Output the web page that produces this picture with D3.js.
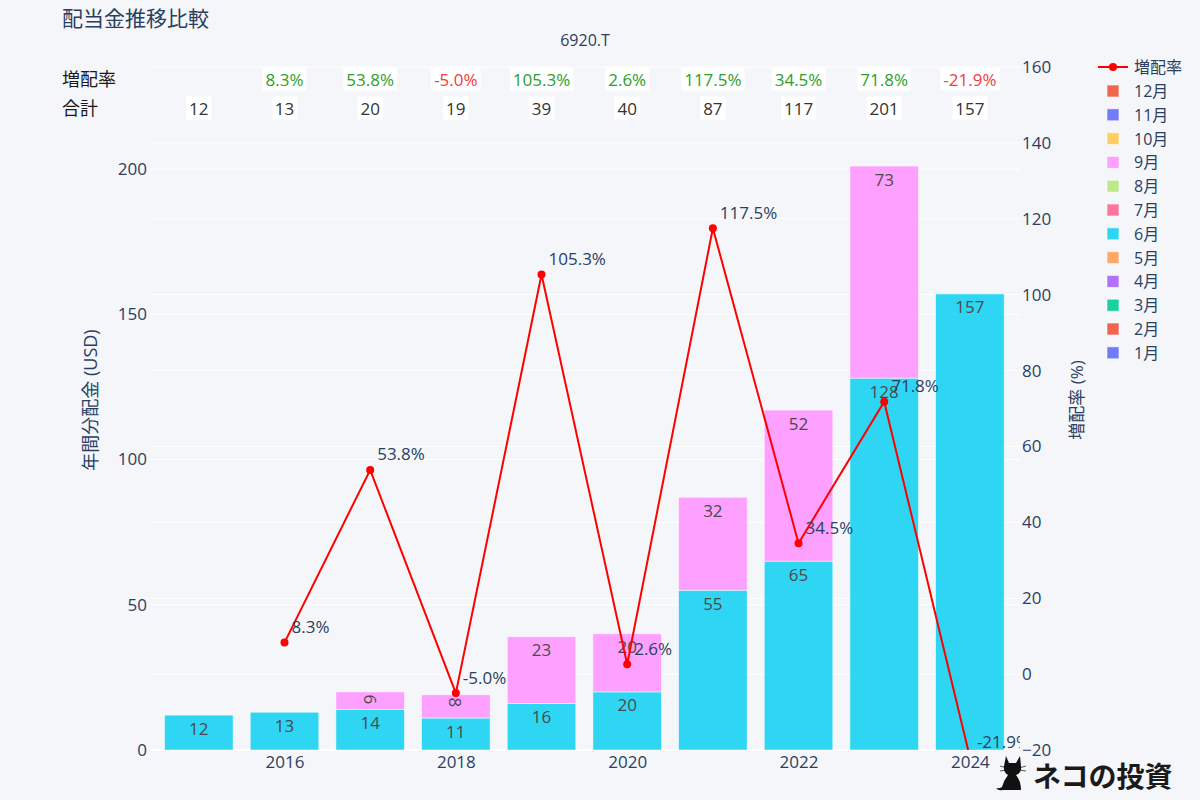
<!DOCTYPE html>
<html><head><meta charset="utf-8">
<script src="https://cdn.jsdelivr.net/npm/d3@7"></script>
<style>body{margin:0;background:#f5f6fa} svg{display:block}</style>
</head><body><svg id="c" width="1200" height="800"></svg>
<script>
// ---- data ----
const years = [2015,2016,2017,2018,2019,2020,2021,2022,2023,2024];
const months = ['1月','2月','3月','4月','5月','6月','7月','8月','9月','10月','11月','12月'];
const monthColors = ['#636EFA','#EF553B','#00CC96','#AB63FA','#FFA15A','#19D3F3','#FF6692','#B6E880','#FF97FF','#FECB52','#636EFA','#EF553B'];
const junValues = [12,13,14,11,16,20,55,65,128,157];
const sepValues = [0,0,6,8,23,20,32,52,73,0];
const totals = [12,13,20,19,39,40,87,117,201,157];
const growth = [null,8.3,53.8,-5.0,105.3,2.6,117.5,34.5,71.8,-21.9];
const leftTicks = [0,50,100,150,200];
const rightTicks = [-20,0,20,40,60,80,100,120,140,160];
const xTicks = [2016,2018,2020,2022,2024];

const FONT = '"Open Sans","Noto Sans CJK JP",sans-serif';
const FC = '#2a3f5f';
const svg = d3.select('#c').style('font-family', FONT);
svg.append('rect').attr('width',1200).attr('height',800).attr('fill','#f5f6fa');

const L=150,R=1020,T=67,B=750;
const x = d3.scaleLinear().domain([2014.43,2024.585]).range([L,R]);
const yL = d3.scaleLinear().domain([0,235.1]).range([B,T]);
const yR = d3.scaleLinear().domain([-20,160]).range([B,T]);
const bw = (x(2016)-x(2015))*0.8;

// grid
const g = svg.append('g');
g.selectAll('.gr').data(rightTicks).join('line')
  .attr('x1',L).attr('x2',R).attr('y1',d=>yR(d)).attr('y2',d=>yR(d))
  .attr('stroke','#fff').attr('stroke-width',1);
g.selectAll('.gl').data(leftTicks).join('line')
  .attr('x1',L).attr('x2',R).attr('y1',d=>yL(d)).attr('y2',d=>yL(d))
  .attr('stroke','#fff').attr('stroke-width',d=>d===0?2:1);

// axes
const axL = svg.append('g').attr('transform',`translate(${L},0)`)
  .call(d3.axisLeft(yL).tickValues(leftTicks).tickSize(0).tickPadding(3));
const axR = svg.append('g').attr('transform',`translate(${R},0)`)
  .call(d3.axisRight(yR).tickValues(rightTicks).tickSize(0).tickPadding(2).tickFormat(d=>d<0?'−'+Math.abs(d):d));
const axX = svg.append('g').attr('transform',`translate(0,${B})`)
  .call(d3.axisBottom(x).tickValues(xTicks).tickSize(0).tickPadding(3).tickFormat(d3.format('d')));
[axL,axR,axX].forEach(a=>{a.select('.domain').remove(); a.selectAll('text').attr('fill',FC).style('font-size','17px').style('font-family',FONT);});
axX.selectAll('text').attr('dy','0.9em');

// stacked bars
const rows = years.map((yr,i)=>{
  const r={year:yr};
  months.forEach(m=>r[m]=0);
  r['6月']=junValues[i]; r['9月']=sepValues[i];
  return r;
});
const stack = d3.stack().keys(months)(rows);
const barG = svg.append('g');
stack.forEach((layer,mi)=>{
  layer.forEach(seg=>{
    const v = seg[1]-seg[0];
    if(v<=0) return;
    const cx = x(seg.data.year);
    const top = yL(seg[1]), bot = yL(seg[0]);
    barG.append('rect').attr('x',cx-bw/2).attr('width',bw).attr('y',top).attr('height',bot-top)
      .attr('fill',monthColors[mi]).attr('fill-opacity',0.9).attr('stroke','#fff').attr('stroke-opacity',0.6).attr('stroke-width',0.8);
    const h = bot-top;
    const t = barG.append('text').text(v).attr('fill','#4a4a4a').style('font-size','17px').attr('text-anchor','middle').attr('dominant-baseline','central');
    if(h>=25){ t.attr('x',cx).attr('y',top+13); }
    else { t.attr('transform',`translate(${cx},${top+7.5}) rotate(90)`); }
  });
});

// clip
svg.append('clipPath').attr('id','clp').append('rect').attr('x',L).attr('y',T).attr('width',R-L).attr('height',B-T);
const lineG = svg.append('g').attr('clip-path','url(#clp)');
const pts = years.map((yr,i)=>({year:yr,v:growth[i]})).filter(d=>d.v!==null);
lineG.append('path').datum(pts).attr('d',d3.line().x(d=>x(d.year)).y(d=>yR(d.v)))
  .attr('fill','none').attr('stroke','#ff0000').attr('stroke-width',2);
lineG.selectAll('circle').data(pts).join('circle').attr('cx',d=>x(d.year)).attr('cy',d=>yR(d.v)).attr('r',4).attr('fill','#ff0000');
lineG.selectAll('.lt').data(pts).join('text').attr('x',d=>x(d.year)+7).attr('y',d=>yR(d.v)-16)
  .attr('dominant-baseline','central').attr('fill',FC).style('font-size','17px').text(d=>d.v.toFixed(1)+'%');

// table annotations
svg.append('text').attr('x',62).attr('y',79).attr('dominant-baseline','central').style('font-size','18px').attr('fill','#1a1a1a').text('増配率');
svg.append('text').attr('x',62).attr('y',108).attr('dominant-baseline','central').style('font-size','18px').attr('fill','#1a1a1a').text('合計');
function boxText(cx,cy,txt,col){
  const gg = svg.append('g');
  const r = gg.append('rect').attr('fill','#fff');
  const t = gg.append('text').attr('x',cx).attr('y',cy).attr('text-anchor','middle').attr('dominant-baseline','central')
    .style('font-size','17px').attr('fill',col).text(txt);
  const w = t.node().getComputedTextLength();
  r.attr('x',cx-w/2-3).attr('width',w+6).attr('y',cy-11.5).attr('height',23);
}
years.forEach((yr,i)=>{
  if(growth[i]!==null) boxText(x(yr),79,growth[i].toFixed(1)+'%', growth[i]>=0?'#2ca02c':'#f03c3c');
  boxText(x(yr),108,String(totals[i]),'#333');
});

// titles
svg.append('text').attr('x',62).attr('y',18).attr('dominant-baseline','central').style('font-size','21px').attr('fill',FC).text('配当金推移比較');
svg.append('text').attr('x',585).attr('y',40).attr('text-anchor','middle').attr('dominant-baseline','central').style('font-size','16px').attr('fill',FC).text('6920.T');
svg.append('text').attr('transform','translate(90,400) rotate(-90)').attr('text-anchor','middle').attr('dominant-baseline','central').style('font-size','18px').attr('fill',FC).text('年間分配金 (USD)');
svg.append('text').attr('transform','translate(1076,400) rotate(-90)').attr('text-anchor','middle').attr('dominant-baseline','central').style('font-size','17px').attr('fill',FC).text('増配率 (%)');

// legend
const lg = svg.append('g');
lg.append('line').attr('x1',1098).attr('x2',1128).attr('y1',67).attr('y2',67).attr('stroke','#ff0000').attr('stroke-width',2);
lg.append('circle').attr('cx',1113).attr('cy',67).attr('r',4).attr('fill','#ff0000');
lg.append('text').attr('x',1134).attr('y',67).attr('dominant-baseline','central').style('font-size','16px').attr('fill',FC).text('増配率');
months.slice().reverse().forEach((m,i)=>{
  const yy = 91 + i*23.8;
  const ci = months.indexOf(m);
  lg.append('rect').attr('x',1107).attr('y',yy-6).attr('width',12).attr('height',12).attr('fill',monthColors[ci]).attr('fill-opacity',0.9).attr('stroke','#fff').attr('stroke-opacity',0.6);
  lg.append('text').attr('x',1134).attr('y',yy).attr('dominant-baseline','central').style('font-size','16px').attr('fill',FC).text(m);
});

// watermark
const wm = svg.append('g');
wm.append('path').attr('fill','#111').attr('d',
  'M1006,756 L1009,763 L1016,763 L1020,756 L1021,766 Q1022,773 1016,775 Q1021,781 1021,790 L1003,790 Q998,791 996,788 Q999,789 1002,787 Q1004,780 1008,775 Q1003,772 1004,766 Z');
wm.append('g').attr('stroke','#111').attr('stroke-width',0.7).selectAll('line')
  .data([[1000,766,1007,768],[1000,771,1007,770],[1019,768,1026,766],[1019,770,1026,771]]).join('line')
  .attr('x1',d=>d[0]).attr('y1',d=>d[1]).attr('x2',d=>d[2]).attr('y2',d=>d[3]);
wm.append('text').attr('x',1033).attr('y',776).attr('dominant-baseline','central').style('font-size','28px').style('font-weight','bold').attr('fill','#1a1a1a').text('ネコの投資');
</script></body></html>
